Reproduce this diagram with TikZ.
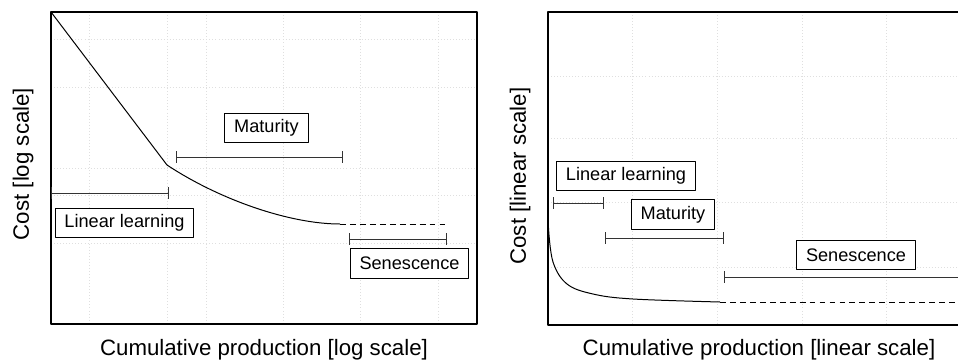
\documentclass[tikz,border=0pt]{standalone}
\usepackage{fontspec}
\setmainfont{Liberation Sans}
\usetikzlibrary{arrows.meta, positioning, calc}

\tikzset{
  panelframe/.style={line width=1.2pt},
  gridline/.style={gray!25, dotted, line width=0.6pt},
  costcurve/.style={line width=0.85pt},
  tailcurve/.style={line width=0.85pt, dash pattern=on 5pt off 3.5pt},
  phasebar/.style={line width=0.85pt, black!80, {Bar[width=10pt]}-{Bar[width=10pt]}},
  phase/.style={draw, line width=0.85pt, fill=white, inner xsep=8pt,
    minimum height=25pt, font=\fontsize{15.5}{18}\selectfont},
  axislabel/.style={font=\fontsize{19}{22}\selectfont}
}

\begin{document}
\begin{tikzpicture}[x=0.03cm, y=-0.03cm, line join=round]
      \clip (0,0) rectangle (958,363);
      % left panel, log scale
      \foreach \gx in {89,167,206,283,360,438} {
        \draw[gridline] (\gx,12) -- (\gx,324);
      }
      \foreach \gy in {39,87,168,195,243} {
        \draw[gridline] (51,\gy) -- (477,\gy);
      }
      \draw[panelframe] (51,12) rectangle (477,324);
      \coordinate (Lstart) at (51,12);
      \coordinate (Lknee) at (167,165);
      \coordinate (Lflat) at (340,224);
      \coordinate (Lend) at (448,224);
      \draw[costcurve] (Lstart) -- (Lknee) .. controls (220,200) and (290,224) .. (Lflat);
      \draw[tailcurve] (Lflat) -- (Lend);
      \coordinate (LlinA) at (51,193);
      \coordinate (LlinB) at (169,193);
      \coordinate (LmatA) at (176,157);
      \coordinate (LmatB) at (343,157);
      \coordinate (LsenA) at (349,239);
      \coordinate (LsenB) at (447,239);
      \draw[phasebar] (LlinA) -- (LlinB);
      \draw[phasebar] (LmatA) -- (LmatB);
      \draw[phasebar] (LsenA) -- (LsenB);
      \node[phase] (Llinear) at (124.5,223) {Linear learning};
      \node[phase] (Lmaturity) at (266.5,128) {Maturity};
      \node[phase] (Lsenescence) at (409.5,263.5) {Senescence};
      \node[axislabel] (Lxlabel) at (264,350) {Cumulative production [log scale]};
      \node[axislabel, rotate=90] (Lylabel) at (23,164) {Cost [log scale]};
      % right panel, linear scale
      \foreach \gx in {632,717,802,886} {
        \draw[gridline] (\gx,12) -- (\gx,325);
      }
      \foreach \gy in {76,138,202,267} {
        \draw[gridline] (548,\gy) -- (970,\gy);
      }
      \draw[panelframe] (970,12) -- (548,12) -- (548,325) -- (970,325);
      \coordinate (Rstart) at (548.5,228);
      \coordinate (Rflat) at (720,302);
      \coordinate (Rend) at (965,302);
      \draw[costcurve] plot[smooth, tension=0.6] coordinates
        {(Rstart) (553,262) (567,284) (593,294) (633,299) (Rflat)};
      \draw[tailcurve] (Rflat) -- (Rend);
      \coordinate (RlinA) at (553,203);
      \coordinate (RlinB) at (604,203);
      \coordinate (RmatA) at (605,238);
      \coordinate (RmatB) at (724,238);
      \coordinate (RsenA) at (724,277);
      \coordinate (RsenB) at (975,277);
      \draw[phasebar] (RlinA) -- (RlinB);
      \draw[phasebar] (RmatA) -- (RmatB);
      \draw[phasebar] (RsenA) -- (RsenB);
      \node[phase] (Rlinear) at (626,176) {Linear learning};
      \node[phase] (Rmaturity) at (673,214.5) {Maturity};
      \node[phase] (Rsenescence) at (856,255) {Senescence};
      \node[axislabel] (Rxlabel) at (759,350) {Cumulative production [linear scale]};
      \node[axislabel, rotate=90] (Rylabel) at (520,176) {Cost [linear scale]};
    \end{tikzpicture}
\end{document}
